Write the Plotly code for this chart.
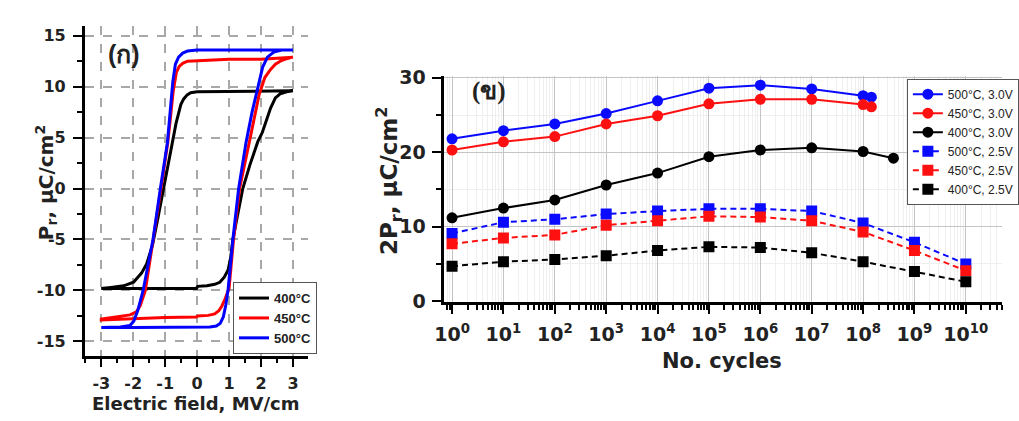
import plotly.graph_objects as go

W, H = 1019, 421

# ---------------- (ก) P-E hysteresis loops ----------------
loop_names = ["400°C", "450°C", "500°C"]
loop_colors = ["#000000", "#ff0000", "#0000ff"]

field_400 = [3.0, 2.0, 1.0, 0.0, -0.2, -0.31, -0.42, -0.51, -0.66, -0.77, -0.9, -1.05, -1.22, -1.4, -1.58,
             -1.74, -1.99, -2.3, -2.7, -3.0,
             -3.0, -2.0, -1.0, -0.02, 0.02, 0.31, 0.55, 0.71, 0.85, 0.97, 1.05, 1.12, 1.28, 1.43, 1.65,
             1.9, 2.04, 2.18, 2.3, 2.45, 2.6, 2.8, 3.0]
pol_400 = [9.6, 9.55, 9.5, 9.5, 9.4, 9.2, 8.8, 8.25, 6.4, 4.5, 2.2, 0.0, -2.8, -5.6, -7.4,
           -8.3, -9.2, -9.55, -9.7, -9.75,
           -9.8, -9.8, -9.8, -9.8, -9.6, -9.55, -9.4, -9.2, -8.7, -8.0, -6.8, -5.0, -2.4, 0.0, 2.3,
           4.6, 5.5, 6.8, 7.9, 8.9, 9.3, 9.5, 9.6]

field_450 = [3.0, 2.6, 2.0, 1.0, 0.0, -0.3, -0.45, -0.56, -0.65, -0.75, -0.85, -0.92, -1.13, -1.37, -1.62,
             -1.78, -1.9, -2.1, -2.5, -3.0,
             -3.0, -2.0, -1.0, -0.02, 0.02, 0.35, 0.55, 0.68, 0.78, 0.88, 1.0, 1.14, 1.33, 1.63, 1.94,
             2.12, 2.3, 2.45, 2.6, 2.8, 3.0]
pol_450 = [12.9, 12.8, 12.7, 12.7, 12.6, 12.5, 12.3, 12.0, 11.4, 9.5, 6.5, 4.5, 0.0, -5.0, -10.0,
           -11.5, -12.1, -12.4, -12.6, -12.8,
           -12.9, -12.75, -12.65, -12.6, -12.5, -12.45, -12.3, -12.0, -11.5, -10.8, -9.8, -5.0, 0.0, 4.5, 9.2,
           10.9, 11.7, 12.2, 12.5, 12.75, 12.9]

field_500 = [3.0, 2.0, 1.0, 0.0, -0.3, -0.45, -0.58, -0.68, -0.76, -0.84, -0.93, -1.15, -1.38, -1.69,
             -1.86, -1.98, -2.1, -2.4, -3.0,
             -3.0, -2.0, -1.0, 0.0, 0.4, 0.6, 0.72, 0.82, 0.9, 0.97, 1.12, 1.3, 1.53, 1.72, 1.88,
             2.05, 2.2, 2.4, 2.65, 3.0]
pol_500 = [13.6, 13.6, 13.6, 13.6, 13.5, 13.3, 12.9, 12.2, 10.5, 8.0, 4.5, 0.0, -5.0, -10.0,
           -12.0, -13.0, -13.45, -13.6, -13.65,
           -13.65, -13.65, -13.65, -13.6, -13.6, -13.5, -13.25, -12.6, -11.4, -9.9, -5.0, 0.0, 4.5, 7.5, 9.7,
           11.9, 12.9, 13.4, 13.6, 13.6]

loop_fields = [field_400, field_450, field_500]
loop_pols = [pol_400, pol_450, pol_500]

field_ticks = [-3, -2, -1, 0, 1, 2, 3]
field_tick_labels = ["-3", "-2", "-1", "0", "1", "2", "3"]
pol_ticks = [-15, -10, -5, 0, 5, 10, 15]
pol_tick_labels = ["-15", "-10", "-5", "0", "5", "10", "15"]

# ---------------- (ข) fatigue: 2Pr vs switching cycles ----------------
cycles_500_30 = [1e0, 1e1, 1e2, 1e3, 1e4, 1e5, 1e6, 1e7, 1e8, 1.45e8]
pr2_500_30 = [21.8, 22.9, 23.8, 25.2, 26.9, 28.6, 29.0, 28.5, 27.6, 27.4]
cycles_450_30 = [1e0, 1e1, 1e2, 1e3, 1e4, 1e5, 1e6, 1e7, 1e8, 1.45e8]
pr2_450_30 = [20.3, 21.4, 22.1, 23.8, 24.9, 26.5, 27.1, 27.1, 26.4, 26.1]
cycles_400_30 = [1e0, 1e1, 1e2, 1e3, 1e4, 1e5, 1e6, 1e7, 1e8, 3.9e8]
pr2_400_30 = [11.2, 12.5, 13.6, 15.6, 17.2, 19.4, 20.3, 20.6, 20.1, 19.2]

cycles_25 = [1e0, 1e1, 1e2, 1e3, 1e4, 1e5, 1e6, 1e7, 1e8, 1e9, 1e10]
pr2_500_25 = [9.1, 10.6, 11.0, 11.7, 12.1, 12.4, 12.4, 12.1, 10.5, 7.9, 5.0]
pr2_450_25 = [7.7, 8.5, 8.9, 10.2, 10.8, 11.4, 11.3, 10.8, 9.3, 6.8, 4.1]
pr2_400_25 = [4.7, 5.3, 5.6, 6.1, 6.8, 7.3, 7.2, 6.5, 5.3, 4.0, 2.6]

fatigue_names = ["500°C, 3.0V", "450°C, 3.0V", "400°C, 3.0V",
                 "500°C, 2.5V", "450°C, 2.5V", "400°C, 2.5V"]
fatigue_x = [cycles_500_30, cycles_450_30, cycles_400_30, cycles_25, cycles_25, cycles_25]
fatigue_y = [pr2_500_30, pr2_450_30, pr2_400_30, pr2_500_25, pr2_450_25, pr2_400_25]
fatigue_colors = ["#0a0aff", "#ff1010", "#000000", "#0a0aff", "#ff1010", "#000000"]
fatigue_symbols = ["circle"] * 3 + ["square"] * 3
fatigue_dash = ["solid"] * 3 + ["6px,4px"] * 3

decades = list(range(0, 11))
decade_labels = [f"10<sup>{d}</sup>" for d in decades]

FONT = "Liberation Sans, Arial, sans-serif"
AXFONT = "DejaVu Sans, Liberation Sans, sans-serif"


def px_x(p):
    return p / W


def px_y(p):
    return 1 - p / H


fig = go.Figure()

for name, col, ex, py in zip(loop_names, loop_colors, loop_fields, loop_pols):
    fig.add_trace(go.Scatter(
        x=ex, y=py, mode="lines", name=name,
        line=dict(color=col, width=3),
        xaxis="x", yaxis="y", legend="legend",
    ))

for name, xs, ys, col, sym, dash in zip(fatigue_names, fatigue_x, fatigue_y,
                                        fatigue_colors, fatigue_symbols, fatigue_dash):
    fig.add_trace(go.Scatter(
        x=xs, y=ys, mode="lines+markers", name=name,
        line=dict(color=col, width=2, dash=dash),
        marker=dict(symbol=sym, size=11, color=col),
        xaxis="x2", yaxis="y2", legend="legend2",
    ))

axis_common = dict(
    showline=True, linecolor="black", linewidth=2.5,
    ticks="outside", tickcolor="black", tickwidth=2,
    zeroline=False, mirror=False,
)
left_tickfont = dict(family=AXFONT, size=16, color="#222", weight="bold")
right_tickfont = dict(family=AXFONT, size=19, color="#222", weight="bold")

minor_log = [k * 10 ** d for d in range(-1, 11) for k in range(2, 10)]

fig.update_layout(
    width=W, height=H,
    margin=dict(l=0, r=0, t=0, b=0),
    paper_bgcolor="white", plot_bgcolor="white",
    font=dict(family=FONT, color="#222"),
    xaxis=dict(
        domain=[px_x(76), px_x(303)], range=[-3.52, 3.46], anchor="y",
        tickmode="array", tickvals=field_ticks, ticktext=field_tick_labels,
        ticklen=9, ticklabelstandoff=2, tickfont=left_tickfont,
        showgrid=True, gridcolor="#a8a8a8", gridwidth=1.5, griddash="dash",
        minor=dict(tickmode="linear", tick0=-3.5, dtick=0.5, ticklen=5, ticks="outside",
                   tickcolor="black", tickwidth=2),
        **axis_common,
    ),
    yaxis=dict(
        domain=[px_y(363), px_y(18)], range=[-16.4, 15.94], anchor="x",
        tickmode="array", tickvals=pol_ticks, ticktext=pol_tick_labels,
        ticklen=9, ticklabelstandoff=4, tickfont=left_tickfont,
        showgrid=True, gridcolor="#a8a8a8", gridwidth=1.5, griddash="dash",
        minor=dict(tickmode="linear", tick0=-15, dtick=2.5, ticklen=5, ticks="outside",
                   tickcolor="black", tickwidth=2),
        **axis_common,
    ),
    xaxis2=dict(
        domain=[px_x(442), px_x(1010)], range=[-0.153, 10.707], type="log", anchor="y2",
        tickmode="array", tickvals=[10 ** d for d in decades], ticktext=decade_labels,
        ticklen=9, ticklabelstandoff=4, tickfont=right_tickfont,
        showgrid=True, gridcolor="#c4c4c4", gridwidth=1,
        minor=dict(tickmode="array", tickvals=minor_log, ticklen=5, ticks="outside",
                   tickcolor="black", tickwidth=1.5, showgrid=True, gridcolor="#efefef", gridwidth=1),
        **axis_common,
    ),
    yaxis2=dict(
        domain=[px_y(307), px_y(70)], range=[-0.13, 30.26], anchor="x2",
        tickmode="linear", tick0=0, dtick=10, ticklen=9, ticklabelstandoff=3,
        tickfont=right_tickfont,
        showgrid=True, gridcolor="#c4c4c4", gridwidth=1,
        minor=dict(dtick=5, ticklen=5, ticks="outside", tickcolor="black", tickwidth=2,
                   showgrid=True, gridcolor="#efefef"),
        **axis_common,
    ),
    legend=dict(
        x=px_x(227), y=px_y(286), xanchor="left", yanchor="top",
        bgcolor="white", bordercolor="#555", borderwidth=1,
        font=dict(family=FONT, size=13, color="#222", weight="bold"),
        itemwidth=30, tracegroupgap=0,
    ),
    legend2=dict(
        x=px_x(913), y=px_y(73), xanchor="left", yanchor="top",
        bgcolor="white", bordercolor="#555", borderwidth=1,
        font=dict(family=FONT, size=12, color="#222"),
        itemwidth=30, tracegroupgap=0,
    ),
    showlegend=True,
)

# white patches keeping the panel labels clear of the grid
fig.add_shape(type="rect", xref="paper", yref="paper", layer="between",
              x0=px_x(77), x1=px_x(150), y0=px_y(70), y1=px_y(18),
              fillcolor="white", line=dict(width=0))
fig.add_shape(type="rect", xref="paper", yref="paper", layer="between",
              x0=px_x(443), x1=px_x(520), y0=px_y(107), y1=px_y(70),
              fillcolor="white", line=dict(width=0))

annotations = [
    dict(text="(ก)", x=px_x(116), y=px_y(47), font=dict(size=25, weight="bold", family=FONT)),
    dict(text="(ข)", x=px_x(488), y=px_y(86), font=dict(size=25, weight="bold",
                                                          family="Liberation Serif, serif")),
    dict(text="P<sub>r</sub>, μC/cm<sup>2</sup>", x=px_x(37), y=px_y(182), textangle=-90,
         font=dict(size=20, weight="bold")),
    dict(text="Electric field, MV/cm", x=px_x(189), y=px_y(413), font=dict(size=18, weight="bold")),
    dict(text="2P<sub>r</sub>, μC/cm<sup>2</sup>", x=px_x(386), y=px_y(180), textangle=-90,
         font=dict(size=23, weight="bold")),
    dict(text="No. cycles", x=px_x(725), y=px_y(369), font=dict(size=21, weight="bold")),
]
for a in annotations:
    f = dict(family=AXFONT, color="#222")
    f.update(a.pop("font"))
    fig.add_annotation(xref="paper", yref="paper", showarrow=False,
                       xanchor="center", yanchor="middle", font=f, **a)

fig.write_html("out.html")
